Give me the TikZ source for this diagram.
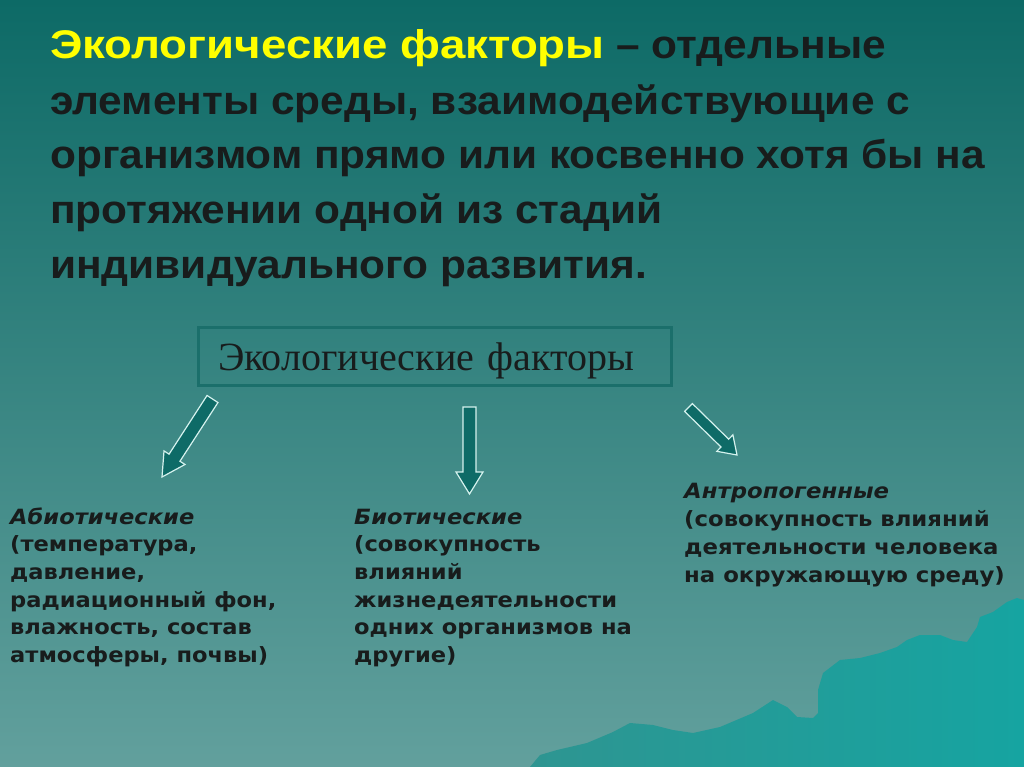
\documentclass[tikz,border=0pt]{standalone}
\usepackage{fontspec}
\usetikzlibrary{calc}
\setmainfont{Liberation Sans}
\newfontfamily\titlefont{Liberation Sans}[FakeStretch=1.06]
\newfontfamily\titlefontY{Liberation Sans}[FakeStretch=1.14]
\newfontfamily\bodyfont{DejaVu Sans}[FakeStretch=1.075]
\newfontfamily\bodyfontW{DejaVu Sans}[FakeStretch=1.085]
\newfontfamily\boxfont{Liberation Serif}
\definecolor{bgtop}{HTML}{0D6A66}
\definecolor{bgmid}{HTML}{3E8683}
\definecolor{bgbot}{HTML}{62A09D}
\definecolor{ink}{HTML}{181C1C}
\definecolor{titleyellow}{HTML}{FFFF00}
\definecolor{boxline}{HTML}{1B6F6B}
\definecolor{arrowfill}{HTML}{0E6B67}
\definecolor{arrowedge}{HTML}{D5F2EE}
\definecolor{mountA}{HTML}{2E9591}
\definecolor{mountB}{HTML}{16A4A1}
\newcommand\blockarrow[5]{%
  \coordinate (ba-base) at ($(#2)!#5!(#1)$);
  \filldraw[arrowstyle] ($(#1)!#3!90:(#2)$) -- ($(ba-base)!#3!-90:(#1)$) -- ($(ba-base)!#4!-90:(#1)$) -- (#2) -- ($(ba-base)!#4!90:(#1)$) -- ($(ba-base)!#3!90:(#1)$) -- ($(#1)!#3!-90:(#2)$) -- cycle;}
\tikzset{
  titletext/.style={anchor=base west, inner sep=0pt, text=ink, font=\titlefont\bfseries\fontsize{40}{48}\selectfont},
  blocktext/.style={anchor=base west, inner sep=0pt, text=ink, align=left, font=\bodyfont\bfseries\fontsize{21}{27.7}\selectfont},
  factorbox/.style={draw=boxline, line width=3pt, minimum width=473pt, minimum height=58pt, inner xsep=20pt, inner ysep=0pt, text width=433pt, align=left, text height=28pt, text depth=0pt, text=ink, font=\boxfont\fontsize{40}{44}\selectfont},
  arrowstyle/.style={fill=arrowfill, draw=arrowedge, line width=1.2pt, line join=miter}
}
\begin{document}
\begin{tikzpicture}[x=1pt,y=-1pt]
\useasboundingbox (0,0) rectangle (1024,767);
\shade[top color=bgtop, middle color=bgmid, bottom color=bgbot] (0,0) rectangle (1024,767);
% mountains
\shade[left color=mountA, right color=mountB]
 (530,767) -- (540,755) -- (557,750) -- (587,743) -- (613,732) -- (630,723) -- (653,725) -- (673,730) -- (693,733) -- (720,727) -- (753,713) -- (773,700) -- (787,707) -- (797,717) -- (813,718) -- (818,713) -- (818,690) -- (823,673) -- (840,660) -- (860,658) -- (880,653) -- (897,647) -- (907,640) -- (920,635) -- (940,635) -- (953,640) -- (967,642) -- (977,627) -- (980,617) -- (993,612) -- (1007,602) -- (1017,598) -- (1024,600) -- (1024,767) -- cycle;
% title
\node[titletext] (t1) at (50,59) {{\titlefontY\color{titleyellow}Экологические факторы} – отдельные};
\node[titletext] (t2) at (50,115) {элементы среды, взаимодействующие с};
\node[titletext] (t3) at (50,169) {организмом прямо или косвенно хотя бы на};
\node[titletext] (t4) at (50,224) {протяжении одной из стадий};
\node[titletext] (t5) at (50,278) {индивидуального развития.};
% box
\node[factorbox] (box) at (434.5,356.5) {Экологические факторы};
% arrows
\coordinate (aLs) at (212.5,399);
\coordinate (aLt) at (162,477);
\coordinate (aMs) at (469.5,407);
\coordinate (aMt) at (469.5,494);
\coordinate (aRs) at (688.5,407.5);
\coordinate (aRt) at (737,455);
\blockarrow{aLs}{aLt}{6.5pt}{12.5pt}{23pt}
\blockarrow{aMs}{aMt}{6.5pt}{13.5pt}{22pt}
\blockarrow{aRs}{aRt}{5.5pt}{11.5pt}{17pt}
% blocks (anchor = baseline of last line)
\node[blocktext] (abio) at (10,662.5) {\itshape Абиотические\\(температура,\\давление,\\радиационный фон,\\влажность, состав\\атмосферы, почвы)};
\node[blocktext] (bio) at (354,662.5) {\itshape Биотические\\(совокупность\\влияний\\жизнедеятельности\\одних организмов на\\другие)};
\node[blocktext, font=\bodyfontW\bfseries\fontsize{21}{27.7}\selectfont] (anthro) at (684,582) {\itshape Антропогенные\\(совокупность влияний\\деятельности человека\\на окружающую среду)};
\end{tikzpicture}
\end{document}
